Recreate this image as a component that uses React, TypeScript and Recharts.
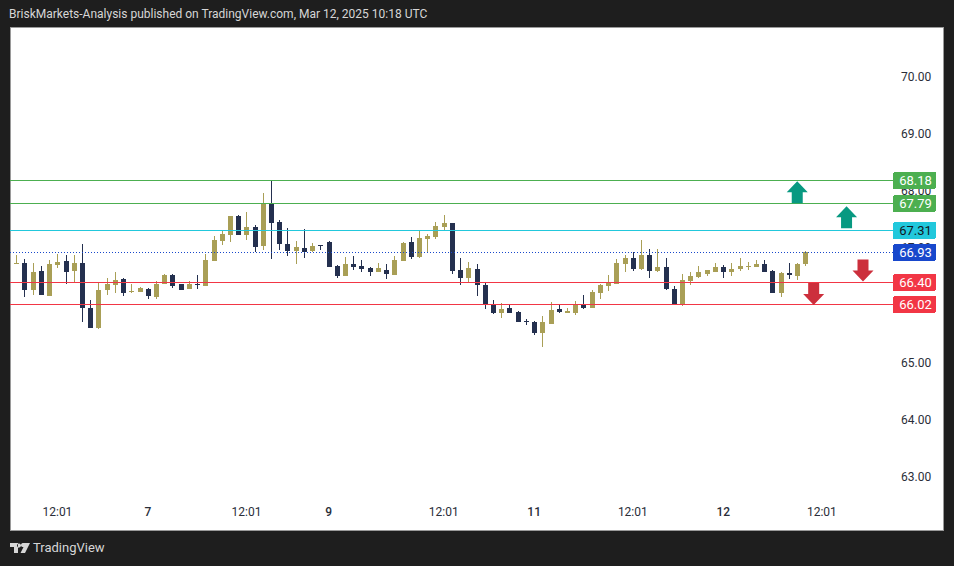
import { ComposedChart, Bar, XAxis, YAxis, ReferenceLine, ReferenceDot } from "recharts";

const opens = [
  66.72, 66.73, 66.26, 66.59, 66.16, 66.7, 66.77, 66.59, 66.73, 65.95,
  65.6, 66.26, 66.35, 66.45, 66.23, 66.23, 66.28, 66.14, 66.37, 66.52,
  66.37, 66.28, 66.37, 66.33, 66.77, 67.12, 67.22, 67.56, 67.22, 67.36,
  67.03, 67.77, 67.45, 67.07, 66.94, 67.0, 66.94, 67.05, 67.1, 66.68,
  66.51, 66.72, 66.68, 66.65, 66.58, 66.61, 66.52, 66.77, 67.1, 66.84,
  67.15, 67.19, 67.36, 67.43, 66.61, 66.47, 66.63, 66.35, 66.02, 65.86,
  65.95, 65.88, 65.72, 65.7, 65.51, 65.67, 65.93, 65.86, 65.86, 66.0,
  65.95, 66.21, 66.33, 66.37, 66.72, 66.82, 66.63, 66.87, 66.59, 66.66,
  66.28, 66.02, 66.42, 66.49, 66.54, 66.58, 66.66, 66.58, 66.63, 66.66,
  66.66, 66.72, 66.59, 66.21, 66.56, 66.51, 66.72,
];
const highs = [
  66.87, 66.8, 66.73, 66.68, 66.79, 66.89, 66.87, 66.87, 67.07, 66.09,
  66.4, 66.47, 66.58, 66.47, 66.37, 66.31, 66.3, 66.42, 66.54, 66.54,
  66.37, 66.42, 66.52, 66.89, 67.21, 67.29, 67.56, 67.57, 67.63, 67.4,
  67.96, 68.19, 67.49, 67.35, 67.12, 67.33, 67.08, 67.05, 67.12, 66.7,
  66.84, 66.86, 66.79, 66.66, 66.73, 66.72, 66.86, 67.1, 67.19, 67.29,
  67.24, 67.45, 67.57, 67.43, 66.82, 66.75, 66.72, 66.38, 66.09, 66.03,
  66.0, 65.89, 65.75, 65.72, 65.81, 66.05, 66.02, 65.95, 66.07, 66.17,
  66.26, 66.37, 66.52, 66.8, 66.87, 66.93, 67.14, 66.98, 66.98, 66.82,
  66.33, 66.54, 66.58, 66.68, 66.61, 66.73, 66.7, 66.73, 66.82, 66.75,
  66.79, 66.79, 66.61, 66.58, 66.73, 66.73, 66.94,
];
const lows = [
  66.72, 66.14, 66.17, 66.17, 66.16, 66.65, 66.37, 66.38, 65.7, 65.6,
  65.58, 66.17, 66.21, 66.16, 66.21, 66.23, 66.1, 66.1, 66.37, 66.3,
  66.26, 66.28, 66.28, 66.33, 66.77, 67.05, 67.1, 67.22, 67.14, 66.93,
  66.96, 66.8, 66.96, 66.86, 66.72, 66.82, 66.93, 66.96, 66.66, 66.47,
  66.51, 66.61, 66.58, 66.51, 66.58, 66.45, 66.52, 66.77, 66.8, 66.82,
  66.93, 67.15, 67.29, 66.54, 66.35, 66.4, 66.16, 65.93, 65.84, 65.77,
  65.86, 65.7, 65.65, 65.47, 65.26, 65.67, 65.86, 65.86, 65.82, 65.93,
  65.95, 66.1, 66.24, 66.37, 66.58, 66.59, 66.61, 66.47, 66.58, 66.26,
  66.02, 65.98, 66.35, 66.47, 66.51, 66.58, 66.47, 66.51, 66.59, 66.61,
  66.66, 66.58, 66.21, 66.14, 66.45, 66.44, 66.68,
];
const closes = [
  66.73, 66.26, 66.58, 66.17, 66.72, 66.75, 66.58, 66.73, 65.95, 65.6,
  66.26, 66.37, 66.44, 66.21, 66.24, 66.3, 66.16, 66.37, 66.52, 66.33,
  66.26, 66.37, 66.35, 66.79, 67.14, 67.24, 67.56, 67.22, 67.36, 67.01,
  67.78, 67.43, 67.07, 66.94, 67.01, 66.93, 67.03, 67.03, 66.66, 66.51,
  66.72, 66.66, 66.63, 66.58, 66.65, 66.54, 66.79, 67.08, 66.84, 67.17,
  67.21, 67.38, 67.43, 66.59, 66.47, 66.65, 66.35, 66.0, 65.86, 65.93,
  65.86, 65.7, 65.7, 65.51, 65.7, 65.91, 65.88, 65.89, 66.0, 65.95,
  66.23, 66.35, 66.4, 66.73, 66.82, 66.63, 66.87, 66.59, 66.66, 66.28,
  66.02, 66.44, 66.51, 66.58, 66.61, 66.66, 66.58, 66.63, 66.68, 66.68,
  66.72, 66.58, 66.21, 66.56, 66.52, 66.72, 66.93,
];

const priceTicks = [63, 64, 65, 66, 67, 68, 69, 70];
const priceDomain = [62.5236, 70.8716];
const timeTicks = [5, 16, 28, 38, 52, 63, 75, 86, 98];
const timeLabels = ["12:01", "7", "12:01", "9", "12:01", "11", "12:01", "12", "12:01"];

const levels = [68.18, 67.79, 67.31, 66.93, 66.4, 66.02];
const levelColors = ["#4caf50", "#4caf50", "#22c8dc", "#1848cc", "#f23645", "#f23645"];
const levelText = ["#ffffff", "#ffffff", "#131722", "#ffffff", "#ffffff", "#ffffff"];

const arrowBars = [95, 101, 103, 97];
const arrowPrices = [67.98, 67.54, 66.61, 66.2];
const arrowDirs = ["up", "up", "down", "down"];

const rows = opens.map((o, i) => ({
  i,
  open: o,
  high: highs[i],
  low: lows[i],
  close: closes[i],
  range: [lows[i], highs[i]],
}));

function Candle(props: any) {
  const { x, width, height, payload } = props;
  const y = props.y - 0.4;
  const { open, high, low, close } = payload;
  const k = height / (high - low);
  const cx = Math.floor(x + width / 2);
  const up = close >= open;
  const color = up ? "#a99f56" : "#24304f";
  const top = y + (high - Math.max(open, close)) * k;
  const bodyH = Math.max(Math.abs(close - open) * k, 1);
  return (
    <g shapeRendering="crispEdges">
      <rect x={cx} y={y} width={1} height={height} fill={color} />
      <rect x={cx - 2} y={top} width={5} height={bodyH} fill={color} />
    </g>
  );
}

function Arrow(props: any) {
  const { cx, cy, dir } = props;
  const color = dir === "up" ? "#089981" : "#cc2f3c";
  const s = dir === "up" ? 1 : -1;
  const pts = [
    [0, -11],
    [10.5, 0],
    [5.5, 0],
    [5.5, 11],
    [-5.5, 11],
    [-5.5, 0],
    [-10.5, 0],
  ];
  return <polygon points={pts.map((p) => `${cx + p[0]},${cy + s * p[1]}`).join(" ")} fill={color} />;
}

// second price axis, painted over the first one, carries the level tags
function PriceTag(props: any) {
  const { x, y, payload } = props;
  const n = levels.indexOf(payload.value);
  const left = x - 49;
  const top = Math.round(y - 8.5);
  return (
    <g>
      <rect x={left} y={top} width={43} height={17} rx={2} fill={levelColors[n]} shapeRendering="crispEdges" />
      <text x={left + 22.5} y={top + 13} textAnchor="middle" fontSize={13} fontFamily="Roboto" fill={levelText[n]}>
        {payload.value.toFixed(2)}
      </text>
    </g>
  );
}

function TimeTick(props: any) {
  const { x, y, payload } = props;
  const label = timeLabels[timeTicks.indexOf(payload.value)];
  const day = !label.includes(":");
  return (
    <text x={x} y={y + 4} textAnchor="middle" fontSize={12} fontFamily="Roboto" fontWeight={day ? 500 : 400} fill="#2a2e39">
      {label}
    </text>
  );
}

export default function App() {
  return (
    <div style={{ position: "absolute", left: 0, top: 0, width: 954, height: 566, background: "#1e1e1e", overflow: "hidden" }}>
      <div
        style={{
          position: "absolute",
          left: 9,
          top: 7,
          color: "#d6d6d6",
          fontFamily: "Roboto",
          fontSize: 12,
          whiteSpace: "nowrap",
        }}
      >
        BriskMarkets-Analysis published on TradingView.com, Mar 12, 2025 10:18 UTC
      </div>
      <div
        style={{
          position: "absolute",
          left: 10,
          top: 27,
          width: 934,
          height: 504,
          boxSizing: "border-box",
          border: "1px solid #9a9a9a",
          background: "#ffffff",
        }}
      />
      <div style={{ position: "absolute", left: 10, top: 27 }}>
        <ComposedChart width={933} height={504} data={rows} margin={{ top: 0, right: 0, bottom: 0, left: 0 }}>
          <XAxis
            dataKey="i"
            type="number"
            domain={[-0.77, 106.65]}
            ticks={timeTicks}
            interval={0}
            height={27}
            axisLine={false}
            tickLine={false}
            tick={<TimeTick />}
            allowDataOverflow
          />
          <YAxis
            orientation="right"
            type="number"
            domain={priceDomain}
            ticks={priceTicks}
            interval={0}
            width={49}
            axisLine={false}
            tickLine={false}
            tickFormatter={(v: number) => v.toFixed(2)}
            tick={{ fontSize: 12, fontFamily: "Roboto", fill: "#2a2e39" }}
            allowDataOverflow
          />
          <YAxis
            yAxisId="tags"
            orientation="right"
            type="number"
            domain={priceDomain}
            ticks={levels}
            interval={0}
            width={1}
            axisLine={false}
            tickLine={false}
            tickSize={0}
            tickMargin={0}
            tick={<PriceTag />}
            allowDataOverflow
          />
          {levels.map((p, n) => (
            <ReferenceLine
              key={p}
              y={p}
              stroke={levelColors[n]}
              strokeWidth={1}
              strokeDasharray={p === 66.93 ? "1 2" : undefined}
              shapeRendering="crispEdges"
            />
          ))}
          <Bar dataKey="range" barSize={5} shape={<Candle />} isAnimationActive={false} />
          {arrowBars.map((b, n) => (
            <ReferenceDot key={b} x={b} y={arrowPrices[n]} shape={<Arrow dir={arrowDirs[n]} />} />
          ))}
        </ComposedChart>
      </div>
      <div
        style={{
          position: "absolute",
          left: 10,
          top: 540,
          display: "flex",
          alignItems: "center",
          color: "#d6d6d6",
          fontFamily: "Roboto",
          fontSize: 13,
        }}
      >
        <svg width={20} height={10} viewBox="0 0 20 10" style={{ marginRight: 3 }}>
          <path d="M0 0H8V10H4V4H0Z M12.5 0H20L15 10H10.5L13.5 4A2 2 0 1 1 12.5 0Z M9 0.5a2 2 0 1 0 0.01 0Z" fill="#d6d6d6" />
        </svg>
        TradingView
      </div>
    </div>
  );
}
